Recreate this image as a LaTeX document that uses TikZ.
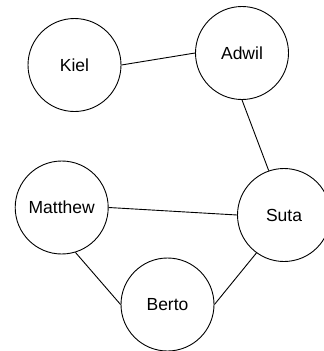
\documentclass[tikz,border=0pt]{standalone}
\usepackage{fontspec}
\setmainfont{Liberation Sans}
\begin{document}
\begin{tikzpicture}[x=1pt,y=-1pt,
  person/.style={circle,draw=black,line width=0.9pt,minimum size=93pt,inner sep=0pt,
    font=\fontsize{17.5}{20}\selectfont},
  link/.style={draw=black,line width=0.9pt}]
\useasboundingbox (0,0) rectangle (324,351);
\clip (0,0) rectangle (324,351);
\node[person] (kiel) at (74.5,65) {Kiel};
\node[person] (adwil) at (242,53) {Adwil};
\node[person] (matthew) at (61.7,207.5) {Matthew};
\node[person] (suta) at (284,215) {Suta};
\node[person] (berto) at (167.5,304.5) {Berto};
\draw[link] (kiel.east) -- (adwil.west);
\draw[link] (adwil.south) -- (suta.109);
\draw[link] (matthew.east) -- (suta.west);
\draw[link] (matthew.-73) -- (berto.west);
\draw[link] (berto.east) -- (suta.-126);
\end{tikzpicture}
\end{document}
